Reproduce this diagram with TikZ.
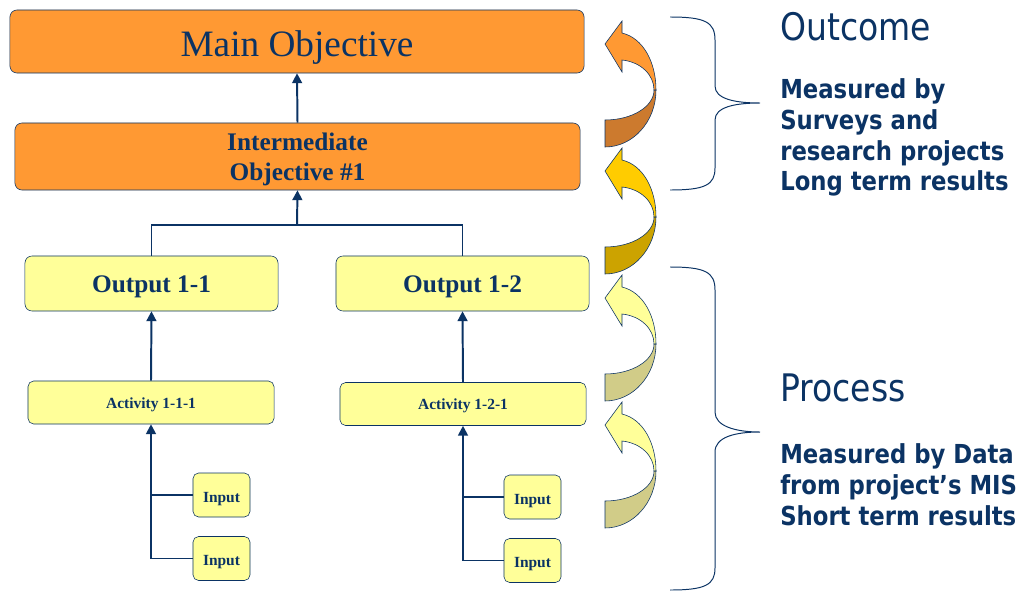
\documentclass[tikz,border=0pt]{standalone}
\usepackage{fontspec}
\setmainfont{Liberation Serif}
\newfontfamily\tahoma[FakeStretch=0.87]{DejaVu Sans}
\usepackage{tikz}
\usetikzlibrary{arrows.meta,positioning}
\definecolor{navy}{HTML}{0B3364}
\definecolor{orng}{HTML}{FF9933}
\definecolor{ylw}{HTML}{FFFF99}
\definecolor{ornF}{HTML}{FF9933}
\definecolor{ornB}{HTML}{CC7A2E}
\definecolor{gldF}{HTML}{FFCC00}
\definecolor{gldB}{HTML}{CCA300}
\definecolor{ylwF}{HTML}{FFFF99}
\definecolor{ylwB}{HTML}{D1CC88}
\tikzstyle{obj} = [rectangle, rounded corners=5pt, fill=orng, draw=navy, text=navy, align=center, inner sep=0pt]
\tikzstyle{res} = [rectangle, rounded corners=5pt, fill=ylw, draw=navy, text=navy, align=center, inner sep=0pt, font=\bfseries\fontsize{18}{21}\selectfont, text height=13.5pt, text depth=0pt, minimum width=6.325cm, minimum height=1.375cm]
\tikzstyle{act} = [rectangle, rounded corners=4pt, fill=ylw, draw=navy, text=navy, align=center, inner sep=0pt, font=\bfseries\fontsize{11}{13}\selectfont, text height=8pt, text depth=0pt, minimum width=6.15cm, minimum height=1.075cm]
\tikzstyle{inp} = [rectangle, rounded corners=4pt, fill=ylw, draw=navy, text=navy, align=center, inner sep=0pt, font=\bfseries\fontsize{11}{13}\selectfont, text height=10.4pt, text depth=0pt, minimum width=1.425cm, minimum height=1.1cm]
\tikzstyle{lnk} = [navy, line width=1.4pt]
\tikzstyle{thn} = [navy, line width=0.8pt]
\tikzstyle{arr} = [navy, line width=1.4pt, -{Triangle[length=7pt,width=7pt]}]
\tikzstyle{brc} = [navy, line width=0.7pt]
\tikzstyle{lbl} = [text=navy, inner sep=0pt, align=left]

\begin{document}
\begin{tikzpicture}[x=0.025cm, y=-0.025cm]
		\useasboundingbox[fill=white] (0,0) rectangle (1025,592);

		% objectives
		\node[obj, minimum width=14.35cm, minimum height=1.575cm, text height=21.5pt, text depth=0pt,
		font=\fontsize{26.5}{30}\selectfont] (obj0) at (297,41.5) {Main Objective};
		\node[obj, minimum width=14.125cm, minimum height=1.675cm, text depth=0pt,
		font=\bfseries\fontsize{18}{21.5}\selectfont] (obj1) at (297.5,156.5) {Intermediate\\ Objective \#1};

		% outputs, activities, inputs
		\node[res] (res11) at (151.5,283.5) {Output 1-1};
		\node[res] (res12) at (462.5,283.5) {Output 1-2};
		\node[act] (act11) at (151,402.5) {Activity 1-1-1};
		\node[act] (act12) at (463,404) {Activity 1-2-1};
		\node[inp] (in111) at (221.5,495) {Input};
		\node[inp] (in112) at (221.5,558.5) {Input};
		\node[inp] (in121) at (532.5,497) {Input};
		\node[inp] (in122) at (532.5,560.5) {Input};

		\coordinate (jn) at (297,225);
		\draw[arr] (obj1.north) -- (obj0.south);
		\draw[thn] (res11.north) |- (jn) -| (res12.north);
		\draw[arr] (jn) -- (obj1.south);
		\draw[arr] (act11.north) -- (res11.south);
		\draw[arr] (act12.north) -- (res12.south);
		\draw[arr] (in112.west) -| (act11.south);
		\draw[lnk] (in111.west) -- (in111.west -| act11.south);
		\draw[arr] (in122.west) -| (act12.south);
		\draw[lnk] (in121.west) -- (in121.west -| act12.south);

		% curved arrows
		\foreach \oy/\fc/\bc in {20/ornF/ornB, 147/gldF/gldB, 274/ylwF/ylwB, 401/ylwF/ylwB}{
			\begin{scope}[shift={(605,\oy)}]
				\filldraw[fill=\bc, draw=navy, thin] (51,70) .. controls (51,101.5) and (28,127) .. (0,127)
				-- (0,100) .. controls (27,100) and (49,86.6) .. (49,70) -- cycle;
				\filldraw[fill=\fc, draw=navy, thin] (17,13) .. controls (38,18) and (51,42) .. (51,70)
				-- (49,70) .. controls (49,55) and (36,42) .. (17,40) -- (17,52) -- (0,24) -- (17,1) -- cycle;
			\end{scope}
		}

		% braces
		\draw[brc] (670,17) .. controls (705,17) and (715,22) .. (715,40) -- (715,86)
		.. controls (715,99) and (735,103) .. (760,103)
		.. controls (735,103) and (715,107) .. (715,120) -- (715,168)
		.. controls (715,185) and (705,190) .. (670,190);
		\draw[brc] (670,267) .. controls (705,267) and (715,272) .. (715,290) -- (715,412)
		.. controls (715,426) and (735,432) .. (760,432)
		.. controls (735,432) and (715,437) .. (715,452) -- (715,568)
		.. controls (715,585) and (705,590) .. (670,590);

		% measures
		\node[lbl, anchor=base west, font=\tahoma\fontsize{27}{30}\selectfont] (outc) at (780,40) {Outcome};
		\node[lbl, anchor=north west, font=\tahoma\bfseries\fontsize{18.6}{22}\selectfont] (outm) at (780,78)
		{Measured by\\ Surveys and\\ research projects\\ Long term results};
		\node[lbl, anchor=base west, font=\tahoma\fontsize{27}{30}\selectfont] (proc) at (780,401) {Process};
		\node[lbl, anchor=north west, font=\tahoma\bfseries\fontsize{18.6}{22}\selectfont] (procm) at (780,443)
		{Measured by Data\\ from project’s MIS\\ Short term results};
	\end{tikzpicture}
\end{document}
